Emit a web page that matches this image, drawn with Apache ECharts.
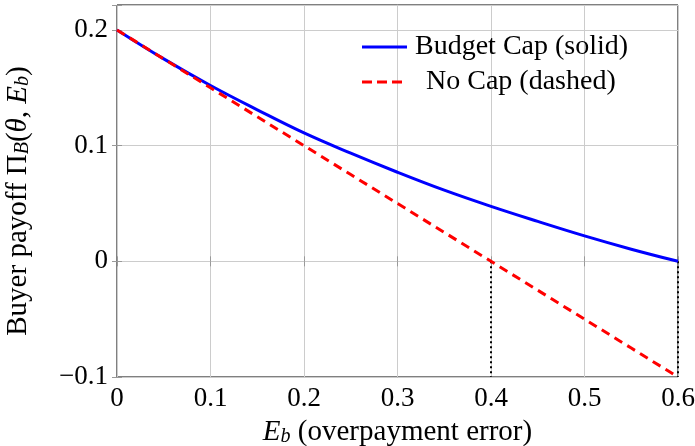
<!DOCTYPE html>
<html>
<head>
<meta charset="utf-8">
<script src="https://cdn.jsdelivr.net/npm/echarts@6/dist/echarts.min.js"></script>
<style>html,body{margin:0;padding:0;background:#fff}#c{width:695px;height:446px}</style>
</head>
<body>
<div id="c"></div>
<script>
// Data
var xVals = [0, 0.05, 0.1, 0.15, 0.2, 0.25, 0.3, 0.35, 0.4, 0.45, 0.5, 0.55, 0.6];
var budgetCap = [0.200, 0.175, 0.152, 0.131, 0.111, 0.0935, 0.077, 0.0615, 0.0475, 0.0345, 0.022, 0.0105, 0.000];
var noCap = [0.200, 0.175, 0.150, 0.125, 0.100, 0.075, 0.050, 0.025, 0.000, -0.025, -0.050, -0.075, -0.100];
var dropXs = [0.4, 0.6];
var dropTop = 0;
var dropBottom = -0.1;
var xTicks = [0, 0.1, 0.2, 0.3, 0.4, 0.5, 0.6];
var yTicks = [-0.1, 0, 0.1, 0.2];
var seriesNames = ['Budget Cap (solid)', 'No Cap (dashed)'];

var FONT = 'Liberation Serif';
var FS = 27;
var NFS = 29;
var SFS = 20;

function pairs(xs, ys) { return xs.map(function (x, i) { return [x, ys[i]]; }); }
function fmt(v) {
  if (Math.abs(v * 10 - Math.round(v * 10)) > 1e-6) return '';
  var r = Math.round(v * 10) / 10;
  if (r === 0) return '0';
  return r.toFixed(1).replace('-', '\u2212');
}
var richName = {
  it: { fontFamily: FONT, fontSize: NFS, fontStyle: 'italic', color: '#000', lineHeight: 30 },
  sub: { fontFamily: FONT, fontSize: SFS, fontStyle: 'italic', color: '#000', lineHeight: 15, verticalAlign: 'bottom' },
  n: { fontFamily: FONT, fontSize: NFS, color: '#000', lineHeight: 30 }
};

var series = [
  { name: seriesNames[0], type: 'line', data: pairs(xVals, budgetCap), symbol: 'none', smooth: 0.4,
    lineStyle: { color: '#0000ff', width: 3 }, itemStyle: { color: '#0000ff' }, z: 3 },
  { name: seriesNames[1], type: 'line', data: pairs(xVals, noCap), symbol: 'none',
    lineStyle: { color: '#ff0000', width: 3, type: [9, 6] }, itemStyle: { color: '#ff0000' }, z: 4 }
];
dropXs.forEach(function (dx) {
  series.push({ type: 'line', data: [[dx, dropTop], [dx, dropBottom]], symbol: 'none', silent: true,
    lineStyle: { color: '#000', width: 2, type: [2, 3] }, z: 2 });
});

var chart = echarts.init(document.getElementById('c'), null, { renderer: 'canvas' });
chart.setOption({
  animation: false,
  textStyle: { fontFamily: FONT },
  grid: { left: 117, right: 17, top: 5, bottom: 69, show: true, borderColor: '#000', borderWidth: 1,
    backgroundColor: 'transparent', containLabel: false, outerBoundsMode: 'none' },
  legend: [
    { data: [{ name: seriesNames[0], icon: 'path://M0,0h45v3h-45z' }], left: 362, top: 33, padding: 0, itemWidth: 45, itemHeight: 3,
      itemStyle: { color: '#0000ff' },
      textStyle: { fontFamily: FONT, fontSize: 28, color: '#000', padding: [0, 0, 0, 3] } },
    { data: [{ name: seriesNames[1], icon: 'path://M0,0h10v3h-10z M15,0h10v3h-10z M30,0h10v3h-10z' }], left: 362, top: 68, padding: 0, itemWidth: 40, itemHeight: 3,
      itemStyle: { color: '#ff0000' },
      textStyle: { fontFamily: FONT, fontSize: 28, color: '#000', padding: [0, 0, 0, 19] } }
  ],
  xAxis: [
    { type: 'value', min: xTicks[0], max: xTicks[xTicks.length - 1], interval: 0.1,
      axisLine: { show: false },
      axisTick: { show: true, inside: true, length: 5, lineStyle: { color: '#999' } },
      splitLine: { show: true, lineStyle: { color: '#cccccc', width: 1 } },
      axisLabel: { formatter: fmt, fontFamily: FONT, fontSize: FS, color: '#000', margin: 8 },
      name: '{it|E}{sub|b}{n| (overpayment error)}', nameLocation: 'middle', nameGap: 40,
      nameTextStyle: { rich: richName } },
    { type: 'value', position: 'top', min: xTicks[0], max: xTicks[xTicks.length - 1], interval: 0.1,
      axisLine: { show: false }, axisLabel: { show: false }, splitLine: { show: false },
      axisTick: { show: true, inside: true, length: 5, lineStyle: { color: '#999' } } }
  ],
  yAxis: [
    { type: 'value', min: yTicks[0], max: 0.2216, interval: 0.1,
      axisLine: { show: false },
      axisTick: { show: true, inside: true, length: 5, lineStyle: { color: '#999' } },
      splitLine: { show: true, lineStyle: { color: '#cccccc', width: 1 } },
      axisLabel: { formatter: fmt, fontFamily: FONT, fontSize: FS, color: '#000', margin: 9 },
      name: '{n|Buyer payoff \u03A0}{sub|B}{n|(}{it|\u03B8}{n|, }{it|E}{sub|b}{n|)}', nameLocation: 'middle', nameGap: 84, nameRotate: 90,
      nameTextStyle: { rich: richName, padding: [0, 20, 0, 0] } },
    { type: 'value', position: 'right', min: yTicks[0], max: 0.2216, interval: 0.1,
      axisLine: { show: false }, axisLabel: { show: false }, splitLine: { show: false },
      axisTick: { show: true, inside: true, length: 5, lineStyle: { color: '#999' } } }
  ],
  series: series
});
</script>
</body>
</html>
